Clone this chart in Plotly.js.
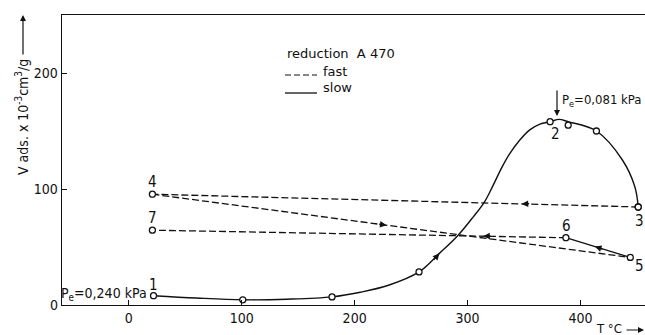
<!DOCTYPE html>
<html><head><meta charset="utf-8">
<script src="https://cdn.plot.ly/plotly-3.0.1.min.js"></script>
<style>html,body{margin:0;padding:0;background:#fff}#chart{width:645px;height:335px}</style>
</head><body><div id="chart"></div>
<script>
// Measured points (T in °C, V ads in 10^-3 cm3/g)
const slowPtsT = [22, 101, 180, 257, 373, 389, 414, 451];
const slowPtsV = [8, 4.5, 7, 28.5, 158, 155, 150, 84.5];
// Slow-reduction curve
const slowCurveT = [22, 60, 101, 140, 180, 205, 230, 257, 275, 291, 305, 315, 322, 330, 337, 346, 355, 364, 373, 381, 389, 414, 437, 448, 451];
const slowCurveV = [8, 6, 4.5, 5, 7, 11, 17, 28.5, 44.5, 59.5, 76, 89, 102, 118, 130, 142, 151, 156, 158, 160, 158, 150, 125, 102, 84.5];
// Fast-reduction path points 3,4,5,6,7
const fastLabels = ["3", "4", "5", "6", "7"];
const fastT = [451, 21, 444, 387, 21];
const fastV = [84.5, 95.5, 41, 58, 64.5];
const xTicks = [0, 100, 200, 300, 400];
const yTicks = [0, 100, 200];

const FONT = "DejaVu Sans Condensed, Liberation Sans Narrow, DejaVu Sans, sans-serif";
const FONT2 = "DejaVu Sans, sans-serif";
const seg = (a, b) => ({x: [fastT[a], fastT[b]], y: [fastV[a], fastV[b]]});
const dashLine = {color: "#111", width: 1.3, dash: "7px,3px"};

const s34 = seg(0, 1), s45 = seg(1, 2), s56 = seg(2, 3), s67 = seg(3, 4);
const traces = [
  {x: slowCurveT, y: slowCurveV, mode: "lines", line: {color: "#111", width: 1.4, shape: "spline", smoothing: 1}},
  Object.assign({mode: "lines", line: dashLine}, s34),
  Object.assign({mode: "lines", line: dashLine}, s45),
  Object.assign({mode: "lines", line: {color: "#111", width: 1.3}}, s56),
  Object.assign({mode: "lines", line: dashLine}, s67),
  {x: slowPtsT.concat(fastT), y: slowPtsV.concat(fastV), mode: "markers",
   marker: {symbol: "circle", size: 6, color: "#fff", line: {color: "#111", width: 1.3}}}
];

// arrow on a segment at fraction f from start toward end
function segArrow(s, f, ax, ay) {
  return {x: s.x[0] + (s.x[1] - s.x[0]) * f, y: s.y[0] + (s.y[1] - s.y[0]) * f,
    text: "", showarrow: true, arrowhead: 2, arrowsize: 1.1, arrowwidth: 1.2, arrowcolor: "#111", ax: ax, ay: ay};
}
const arrows = [
  segArrow(s34, 0.24, 9, -0.3),
  segArrow(s45, 0.49, -9, -1.2),
  segArrow(s56, 0.55, 9, 3),
  segArrow(s67, 0.20, 9, -0.2),
  {x: slowCurveT[8], y: slowCurveV[8], text: "", showarrow: true, arrowhead: 2, arrowsize: 1.1, arrowwidth: 1.2, arrowcolor: "#111", ax: -7, ay: 8}
];

function lbl(x, y, t, xs, ys) {
  return {x: x, y: y, text: t, showarrow: false, xshift: xs, yshift: ys, font: {family: FONT, size: 15, color: "#111"}};
}
const px = v => (v - 62) / 583;           // pixel -> paper x
const py = v => (305 - v) / 290;          // pixel -> paper y
function ptext(xp, yp, t, anchor, size, angle, fam) {
  return {xref: "paper", yref: "paper", x: px(xp), y: py(yp), text: t, showarrow: false,
    xanchor: anchor || "left", yanchor: "middle", textangle: angle || 0,
    font: {family: fam || FONT, size: size || 14, color: "#111"}};
}

const annotations = [
  lbl(slowPtsT[0], slowPtsV[0], "1", 0, 11),
  lbl(slowPtsT[4], slowPtsV[4], "2", 5, -12),
  lbl(fastT[0], fastV[0], fastLabels[0], 1, -14),
  lbl(fastT[1], fastV[1], fastLabels[1], 0, 12),
  lbl(fastT[2], fastV[2], fastLabels[2], 9, -9),
  lbl(fastT[3], fastV[3], fastLabels[3], 1, 12),
  lbl(fastT[4], fastV[4], fastLabels[4], 0, 12),
  Object.assign(lbl(slowPtsT[0], slowPtsV[0], "P<sub>e</sub>=0,240 kPa", -5, 2), {xanchor: "right", font: {family: FONT, size: 14, color: "#111"}}),
  ptext(560, 100, "P<sub>e</sub>=0,081 kPa", "left", 13),
  {xref: "paper", yref: "paper", x: px(557), y: py(116), ax: 0, ay: -27, text: "", showarrow: true,
   arrowhead: 2, arrowsize: 1, arrowwidth: 1.2, arrowcolor: "#111"},
  ptext(285, 53, "reduction  A 470", "left", 13, 0, FONT2),
  ptext(321, 71, "fast", "left", 13, 0, FONT2),
  ptext(321, 88, "slow", "left", 13, 0, FONT2),
  ptext(22, 117, "V ads. x 10<sup>-3</sup>cm<sup>3</sup>/g", "center", 14, -90),
  {xref: "paper", yref: "paper", x: px(23), y: py(15), ax: 0, ay: 41, text: "", showarrow: true,
   arrowhead: 2, arrowsize: 1, arrowwidth: 1.2, arrowcolor: "#111"},
  ptext(594, 328, "T °C", "left", 13),
  {xref: "paper", yref: "paper", x: px(644), y: py(330), ax: -19, ay: 0, text: "", showarrow: true,
   arrowhead: 2, arrowsize: 1, arrowwidth: 1.2, arrowcolor: "#111"}
].concat(arrows);

const shapes = [
  {type: "line", xref: "paper", yref: "paper", x0: px(285), x1: px(317), y0: py(75), y1: py(75),
   line: {color: "#111", width: 1.2, dash: "6px,3px"}},
  {type: "line", xref: "paper", yref: "paper", x0: px(285), x1: px(317), y0: py(93), y1: py(93),
   line: {color: "#111", width: 1.3}}
];

const layout = {
  width: 645, height: 335,
  margin: {l: 62, r: 0, t: 15, b: 30},
  paper_bgcolor: "#fff", plot_bgcolor: "#fff",
  showlegend: false,
  font: {family: FONT, size: 14, color: "#111"},
  xaxis: {range: [-59, 457], tickvals: xTicks, ticktext: xTicks.map(String), ticks: "inside", ticklen: 5,
    tickcolor: "#111", showline: true, linecolor: "#111", linewidth: 1.3, mirror: true,
    showgrid: false, zeroline: false, tickfont: {family: FONT, size: 14}},
  yaxis: {range: [0, 250], tickvals: yTicks, ticktext: yTicks.map(String), ticks: "inside", ticklen: 5,
    tickcolor: "#111", showline: true, linecolor: "#111", linewidth: 1.3,
    showgrid: false, zeroline: false, tickfont: {family: FONT, size: 14}},
  annotations: annotations,
  shapes: shapes
};
Plotly.newPlot("chart", traces, layout, {staticPlot: true, displayModeBar: false});
</script></body></html>
